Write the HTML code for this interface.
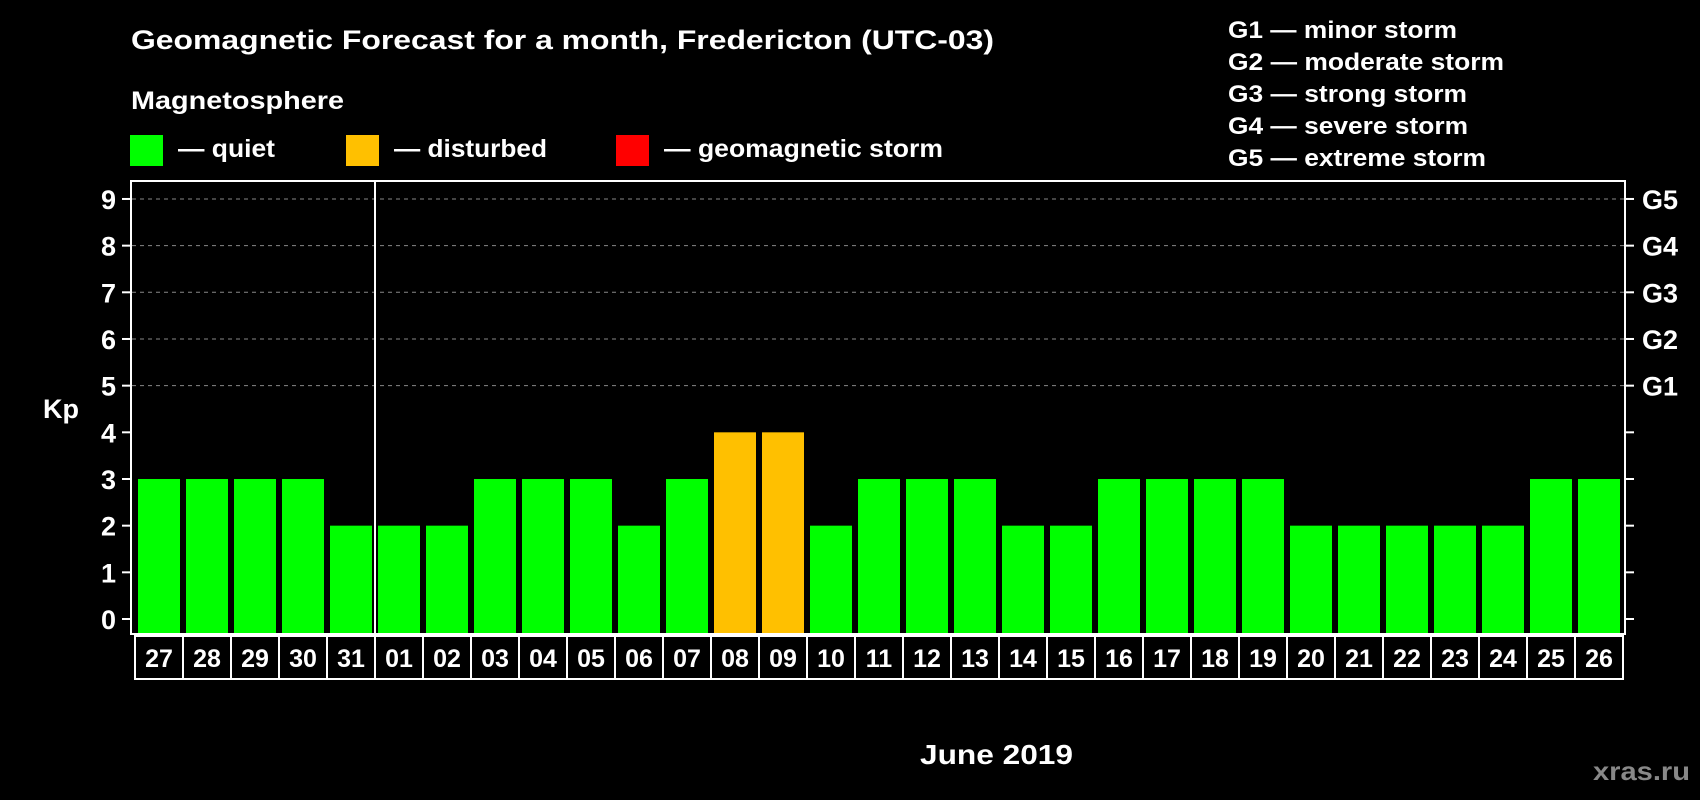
<!DOCTYPE html>
<html><head><meta charset="utf-8"><style>
html,body{margin:0;padding:0;background:#000;}
svg{display:block;font-family:"Liberation Sans",Arial,sans-serif;font-weight:bold;}
</style></head><body>
<svg id="chart" width="1700" height="800" viewBox="0 0 1700 800" xmlns="http://www.w3.org/2000/svg">
<rect width="1700" height="800" fill="#000"/>
<text x="131" y="49" fill="#fff" font-size="27" textLength="863" lengthAdjust="spacingAndGlyphs">Geomagnetic Forecast for a month, Fredericton (UTC-03)</text>
<text x="131" y="109" fill="#fff" font-size="25" textLength="213" lengthAdjust="spacingAndGlyphs">Magnetosphere</text>
<g>
<rect x="130" y="135" width="33" height="31" fill="#00ff00"/>
<text x="178" y="157" fill="#fff" font-size="25" textLength="97" lengthAdjust="spacingAndGlyphs">— quiet</text></g>
<g>
<rect x="346" y="135" width="33" height="31" fill="#ffc000"/>
<text x="394" y="157" fill="#fff" font-size="25" textLength="153" lengthAdjust="spacingAndGlyphs">— disturbed</text></g>
<g>
<rect x="616" y="135" width="33" height="31" fill="#ff0000"/>
<text x="664" y="157" fill="#fff" font-size="25" textLength="279" lengthAdjust="spacingAndGlyphs">— geomagnetic storm</text></g>
<g id="glegend"></g>
<g id="grid"></g>
<g id="bars"></g>
<rect x="131" y="181" width="1494" height="453" fill="none" stroke="#fff" stroke-width="2"/>
<g id="axes"></g>
<text x="43" y="418" fill="#fff" font-size="27">Kp</text>
<text x="920" y="764" fill="#fff" font-size="28" textLength="153" lengthAdjust="spacingAndGlyphs">June 2019</text>
<text x="1593" y="780" fill="#888" font-size="26" textLength="97" lengthAdjust="spacingAndGlyphs">xras.ru</text>
</svg>
<script>
const days = ["27","28","29","30","31","01","02","03","04","05","06","07","08","09","10","11","12","13","14","15","16","17","18","19","20","21","22","23","24","25","26"];
const kpValues = [3,3,3,3,2,2,2,3,3,3,2,3,4,4,2,3,3,3,2,2,3,3,3,3,2,2,2,2,2,3,3];
const yTicks = [0,1,2,3,4,5,6,7,8,9];
const gLabels = ["G1","G2","G3","G4","G5"];
const gLevels = [5,6,7,8,9];
const gDescriptions = ["G1 — minor storm","G2 — moderate storm","G3 — strong storm","G4 — severe storm","G5 — extreme storm"];
const monthBreakIndex = 5;

const NS="http://www.w3.org/2000/svg";
const y0=619, unit=46.67, slot0=135, slotW=48, barW=42;
const gLegendWidths=[229,276,239,240,258];
function yScale(v){return y0 - v*unit;}
function xSlot(i){return slot0 + i*slotW;}
function colorFor(v){return v>=5?"#ff0000":(v>=4?"#ffc000":"#00ff00");}
function mk(tag,attrs,parent){const e=document.createElementNS(NS,tag);for(const k in attrs)e.setAttribute(k,attrs[k]);parent.appendChild(e);return e;}

const grid=document.getElementById('grid'), bars=document.getElementById('bars'), axes=document.getElementById('axes'), gl=document.getElementById('glegend');

gDescriptions.forEach((d,i)=>{
  const t=mk('text',{x:1228,y:38+i*32,fill:'#fff','font-size':24,textLength:gLegendWidths[i],lengthAdjust:'spacingAndGlyphs'},gl);
  
  
  t.textContent=d;
});

yTicks.forEach(v=>{
  const y=yScale(v);
  if(v>=5){
    const l=mk('line',{x1:132,x2:1624,y1:y,y2:y,stroke:'#888','stroke-width':1,'stroke-dasharray':'4,4'},grid);
    
    
  }
  const tl=mk('line',{x1:122,x2:131,y1:y,y2:y,stroke:'#fff','stroke-width':2},axes);
  
  
  const tr=mk('line',{x1:1625,x2:1634,y1:y,y2:y,stroke:'#fff','stroke-width':2},axes);
  
  
  const t=mk('text',{x:116,y:y+10,fill:'#fff','font-size':27,'text-anchor':'end'},axes);
  
  
  t.textContent=v;
});
gLevels.forEach((v,i)=>{
  const t=mk('text',{x:1642,y:yScale(v)+10,fill:'#fff','font-size':27},axes);
  
  
  t.textContent=gLabels[i];
});

kpValues.forEach((v,i)=>{
  const x=xSlot(i)+(slotW-barW)/2;
  const r=mk('rect',{x:x,y:yScale(v),width:barW,height:v*unit+14,fill:colorFor(v)},bars);
  
  
});

const sep=mk('line',{x1:xSlot(monthBreakIndex),x2:xSlot(monthBreakIndex),y1:181,y2:634,stroke:'#fff','stroke-width':2},axes);



const box=mk('rect',{x:slot0,y:636,width:days.length*slotW,height:43,fill:'none',stroke:'#fff','stroke-width':2},axes);


days.forEach((d,i)=>{
  if(i>0){
    const l=mk('line',{x1:xSlot(i),x2:xSlot(i),y1:636,y2:679,stroke:'#fff','stroke-width':2},axes);
    
    
  }
  const t=mk('text',{x:xSlot(i)+slotW/2,y:667,fill:'#fff','font-size':25,'text-anchor':'middle'},axes);
  
  
  t.textContent=d;
});
</script>
</body></html>
